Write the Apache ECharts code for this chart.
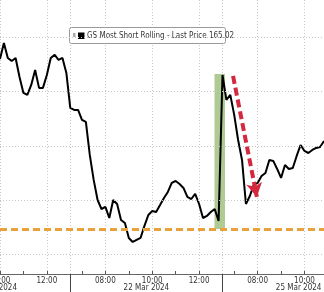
<!DOCTYPE html>
<html><head><meta charset="utf-8">
<script src="https://cdn.jsdelivr.net/npm/echarts@6/dist/echarts.min.js"></script>
<style>html,body{margin:0;padding:0;background:#fff;overflow:hidden}#c{width:324px;height:292px}</style>
</head><body><div id="c"></div>
<script>
// ---- data ----
const sessionDates = ['21 Mar 2024', '22 Mar 2024', '25 Mar 2024'];
const sessionStarts = ['10:00', '06:30', '06:30'];
const sessionEnds = ['12:50', '12:50', '10:50'];
const tickLabelTimes = ['08:00', '10:00', '12:00'];
const seriesName = 'GS Most Short Rolling - Last Price 165.02';
const price = [
  173.02,174.49,173.11,172.83,173.11,171.36,169.89,169.70,170.62,172.00,
  170.35,170.35,171.54,173.11,173.39,172.93,173.11,171.73,168.50,168.32,
  168.32,167.40,167.21,164.17,161.87,160.02,159.19,159.38,158.36,160.02,
  159.65,158.18,157.90,156.52,156.15,156.34,156.52,157.63,158.64,159.01,
  158.92,159.56,160.21,160.76,161.59,161.77,161.50,161.13,160.30,160.11,
  160.58,159.65,158.36,158.55,158.92,159.19,158.09,171.54,169.24,169.70,
  167.86,165.55,163.71,159.65,160.39,161.41,161.59,162.23,162.51,163.71,
  163.62,162.88,162.05,163.25,162.88,162.97,164.08,165.09,164.54,164.35,
  164.63,164.82,164.91,165.46
];
const gridLevels = [155, 160, 165, 170, 175];
const yRange = [153.2, 178.45];
const supportLevel = 157.3;
const bandX = [54.95, 57.63];
const bandY = [157.35, 171.64];
const arrowFrom = [59.7, 171.45];
const arrowTo = [65.8, 160.3];

// ---- build categories (10-minute steps per session) ----
function toMin(t) { const p = t.split(':'); return +p[0] * 60 + +p[1]; }
function toStr(m) { const h = Math.floor(m / 60), mm = m % 60; return (h < 10 ? '0' : '') + h + ':' + (mm < 10 ? '0' : '') + mm; }
const times = [];
sessionDates.forEach((d, k) => {
  for (let m = toMin(sessionStarts[k]); m <= toMin(sessionEnds[k]); m += 10) times.push(d + ' ' + toStr(m));
});
const hhmm = v => v.slice(-5);
const FONT = "'Liberation Sans Narrow','Arial Narrow','DejaVu Sans Condensed',sans-serif";
const dotted = { color: '#c6c6c6', width: 1, type: [1, 2] };
const isLabel = (i, v) => tickLabelTimes.indexOf(hhmm(times[i])) >= 0;
const isStart = (i, v) => i > 0 && hhmm(times[i]) === '06:30';

const chart = echarts.init(document.getElementById('c'), null, { renderer: 'canvas' });
chart.setOption({
  animation: false,
  grid: { left: 0, right: 0, top: 0, bottom: 18, containLabel: false, outerBoundsMode: 'none' },
  xAxis: [
    {
      type: 'category', data: times, boundaryGap: false, position: 'bottom',
      axisLine: { lineStyle: { color: '#666', width: 1 } },
      axisTick: { show: true, inside: true, length: 3, interval: (i) => hhmm(times[i]).slice(-2) === '00', lineStyle: { color: '#555' } },
      axisLabel: { interval: isLabel, formatter: hhmm, fontSize: 8, fontFamily: FONT, color: '#333', margin: 3, hideOverlap: false },
      splitLine: { show: true, interval: (i) => isLabel(i) || isStart(i), lineStyle: dotted }
    },
    {
      type: 'category', data: times, boundaryGap: false, position: 'bottom', offset: 0,
      axisLine: { show: false }, axisLabel: { show: false }, splitLine: { show: false },
      axisTick: { show: true, inside: false, length: 18, interval: isStart, lineStyle: { color: '#444', width: 1 } }
    },
    { type: 'value', min: 0, max: times.length - 1, show: false }
  ],
  yAxis: { type: 'value', min: yRange[0], max: yRange[1], show: false, splitLine: { show: false } },
  series: [
    {
      type: 'line', xAxisIndex: 2, data: [], z: 1, silent: true,
      markLine: { silent: true, symbol: 'none', label: { show: false }, lineStyle: dotted,
        data: gridLevels.map(v => ({ yAxis: v })) }
    },
    {
      type: 'line', xAxisIndex: 2, data: [], z: 2, silent: true,
      markArea: { silent: true, itemStyle: { color: '#afca93' },
        data: [[{ coord: [bandX[0], bandY[1]] }, { coord: [bandX[1], bandY[0]] }]] }
    },
    {
      type: 'line', xAxisIndex: 2, data: [], z: 3, silent: true,
      markLine: { silent: true, symbol: 'none', label: { show: false },
        lineStyle: { color: '#E9A23B', width: 3, type: [7, 4] },
        data: [{ yAxis: supportLevel }] }
    },
    {
      name: seriesName, type: 'line', xAxisIndex: 0, data: price, z: 4,
      symbol: 'none', lineStyle: { color: '#000', width: 2 }
    },
    {
      type: 'line', xAxisIndex: 2, data: [], z: 5, silent: true,
      markLine: { silent: true, symbol: ['none', 'arrow'], symbolSize: [12, 14], label: { show: false },
        lineStyle: { color: '#D3283D', width: 4, type: [8, 4] },
        data: [[{ coord: arrowFrom }, { coord: arrowTo }]] }
    }
  ]
});

// legend box and date labels
const graphics = [{
  type: 'group', left: 69, top: 27, z: 100,
  children: [
    { type: 'rect', shape: { x: 0.5, y: 0.5, width: 156, height: 16, r: 2 }, style: { fill: '#fff', stroke: '#9a9a9a', lineWidth: 1 } },
    { type: 'rect', shape: { x: 4, y: 6, width: 2.5, height: 4 }, style: { fill: '#aaa' } },
    { type: 'rect', shape: { x: 9, y: 5.5, width: 6.5, height: 6.5 }, style: { fill: '#000' } },
    { type: 'text', style: { x: 18, y: 9, text: seriesName, font: '8px ' + FONT, fill: '#333', verticalAlign: 'middle', align: 'left' } }
  ]
}];
sessionDates.forEach((d, k) => {
  const idx10 = times.indexOf(d + ' 10:00');
  const px = chart.convertToPixel({ xAxisIndex: 2 }, idx10 - 1.5);
  graphics.push({ type: 'text', z: 100, style: { x: px, y: 288, text: d, font: '8px ' + FONT, fill: '#333', align: 'center', verticalAlign: 'middle' } });
});
chart.setOption({ graphic: graphics });
</script></body></html>
